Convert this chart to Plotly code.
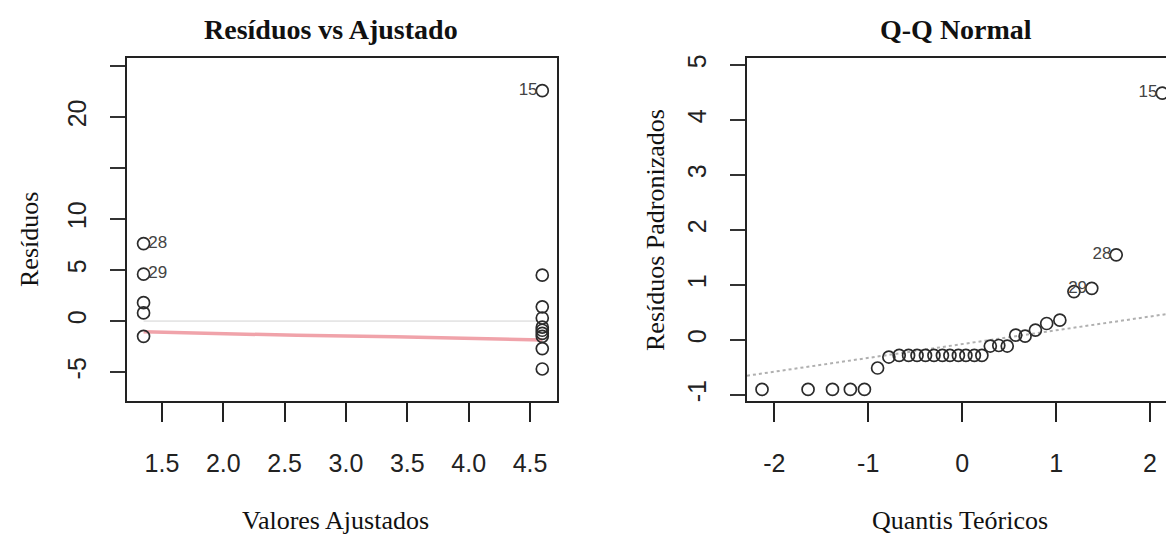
import plotly.graph_objects as go

# ---------------- data ----------------
# Panel 1: Residuals vs Fitted
fit_left = [1.35, 1.35, 1.35, 1.35, 1.35]
res_left = [7.6, 4.6, 1.8, 0.8, -1.5]
fit_right = [4.6, 4.6, 4.6, 4.6, 4.6, 4.6, 4.6, 4.6, 4.6, 4.6]
res_right = [22.6, 4.5, 1.4, 0.3, -0.6, -0.9, -1.2, -1.5, -2.7, -4.7]
smooth_x = [1.35, 1.8, 2.6, 3.4, 4.2, 4.6]
smooth_y = [-1.05, -1.2, -1.4, -1.55, -1.72, -1.85]
zero_x = [1.35, 4.55]
zero_y = [0, 0]
lab1_x = [1.35, 1.35, 4.6]
lab1_y = [7.6, 4.6, 22.6]
lab1_txt = ["28", "29", "15"]
x1_ticks = [1.5, 2.0, 2.5, 3.0, 3.5, 4.0, 4.5]
x1_ticktext = ["1.5", "2.0", "2.5", "3.0", "3.5", "4.0", "4.5"]
y1_ticks = [-5, 0, 5, 10, 15, 20, 25]
y1_ticktext = ["-5", "0", "5", "10", "", "20", ""]

# Panel 2: Normal Q-Q
theo_q = [-2.13, -1.64, -1.38, -1.19, -1.04, -0.90, -0.78, -0.67, -0.57, -0.48,
          -0.39, -0.30, -0.21, -0.13, -0.04, 0.04, 0.13, 0.21, 0.30, 0.39,
          0.48, 0.57, 0.67, 0.78, 0.90, 1.04, 1.19, 1.38, 1.64, 2.13]
std_res = [-0.90, -0.90, -0.90, -0.90, -0.90, -0.51, -0.31, -0.28, -0.28, -0.28,
           -0.28, -0.28, -0.28, -0.28, -0.28, -0.28, -0.28, -0.28, -0.11, -0.10,
           -0.11, 0.09, 0.07, 0.18, 0.30, 0.36, 0.88, 0.94, 1.55, 4.49]
qq_line_x = [-2.29, 2.25]
qq_line_y = [-0.65, 0.49]
lab2_x = [1.38, 1.64, 2.13]
lab2_y = [0.94, 1.55, 4.49]
lab2_txt = ["29", "28", "15"]
x2_ticks = [-2, -1, 0, 1, 2]
x2_ticktext = ["-2", "-1", "0", "1", "2"]
y2_ticks = [-1, 0, 1, 2, 3, 4, 5]
y2_ticktext = ["-1", "0", "1", "2", "3", "4", "5"]

# ---------------- styling ----------------
SERIF = "Liberation Serif, Times New Roman, serif"
SANS = "Liberation Sans Narrow, Arial Narrow, Liberation Sans, Arial, sans-serif"
PT = "#2b2b2b"
W, H = 1166, 536

pos1 = ["middle right", "middle right", "middle left"]
txt1 = [(" " + t) if p.endswith("right") else (t + " ") for t, p in zip(lab1_txt, pos1)]
txt2 = [t + " " for t in lab2_txt]

fig = go.Figure()

# panel 1
fig.add_trace(go.Scatter(x=zero_x, y=zero_y, mode="lines",
                         line=dict(color="#d2d2d2", width=1), xaxis="x", yaxis="y",
                         hoverinfo="skip"))
fig.add_trace(go.Scatter(x=smooth_x, y=smooth_y, mode="lines",
                         line=dict(color="#f0a3aa", width=3.5), xaxis="x", yaxis="y"))
fig.add_trace(go.Scatter(x=fit_left + fit_right, y=res_left + res_right, mode="markers",
                         marker=dict(symbol="circle-open", size=12, color=PT,
                                     line=dict(width=1.7, color=PT)),
                         xaxis="x", yaxis="y"))
fig.add_trace(go.Scatter(x=lab1_x, y=lab1_y, mode="text", text=txt1,
                         textposition=pos1,
                         textfont=dict(family=SANS, size=17, color="#444444"),
                         xaxis="x", yaxis="y"))

# panel 2
fig.add_trace(go.Scatter(x=qq_line_x, y=qq_line_y, mode="lines",
                         line=dict(color="#b0b0b0", width=2, dash="dot"),
                         xaxis="x2", yaxis="y2"))
fig.add_trace(go.Scatter(x=theo_q, y=std_res, mode="markers",
                         marker=dict(symbol="circle-open", size=12, color=PT,
                                     line=dict(width=1.7, color=PT)),
                         xaxis="x2", yaxis="y2"))
fig.add_trace(go.Scatter(x=lab2_x, y=lab2_y, mode="text", text=txt2,
                         textposition="middle left",
                         textfont=dict(family=SANS, size=17, color="#444444"),
                         xaxis="x2", yaxis="y2", cliponaxis=False))

ydom = [1 - 401 / H, 1 - 58 / H]

common_x = dict(showgrid=False, zeroline=False, showline=True, linecolor="#222222",
                linewidth=1.5, ticks="outside", ticklen=19, tickwidth=1.5,
                tickcolor="#222222", ticklabelstandoff=20,
                tickfont=dict(family=SANS, size=25, color="#222222"))
common_y = dict(showgrid=False, zeroline=False, showline=True, linecolor="#222222",
                linewidth=1.5, ticks="outside", ticklen=15, tickwidth=1.5,
                tickcolor="#333333", tickangle=-90, ticklabelstandoff=14,
                tickfont=dict(family=SANS, size=25, color="#222222"))

def ann(text, px, py, size, angle=0):
    return dict(text=text, x=px / W, y=1 - py / H, xref="paper", yref="paper",
                showarrow=False, xanchor="center", yanchor="middle", textangle=angle,
                font=dict(family=SERIF, size=size, color="#111111"))

fig.update_layout(
    width=W, height=H,
    margin=dict(l=0, r=0, t=0, b=0, autoexpand=False),
    paper_bgcolor="white", plot_bgcolor="white",
    showlegend=False,
    xaxis=dict(domain=[127 / W, 557 / W], range=[1.215, 4.72],
               tickvals=x1_ticks, ticktext=x1_ticktext, mirror=True, **common_x),
    yaxis=dict(domain=ydom, range=[-7.84, 25.8], tickvals=y1_ticks,
               ticktext=y1_ticktext, mirror=True, **common_y),
    xaxis2=dict(domain=[747 / W, 1.0], range=[-2.29, 2.17], tickvals=x2_ticks,
                ticktext=x2_ticktext, mirror=True, anchor="y2", **common_x),
    yaxis2=dict(domain=ydom, range=[-1.11, 5.13], tickvals=y2_ticks,
                ticktext=y2_ticktext, anchor="x2", mirror=False, **common_y),
    annotations=[
        ann("<b>Resíduos vs Ajustado</b>", 331, 30, 28),
        ann("<b>Q-Q Normal</b>", 956, 30, 28),
        ann("Valores Ajustados", 335, 520, 26),
        ann("Quantis Teóricos", 960, 520, 26),
        ann("Resíduos", 30, 240, 26, -90),
        ann("Resíduos Padronizados", 655, 230, 26, -90),
    ],
)

fig.write_html(
    "out.html",
    config={"displayModeBar": False},
    post_script="document.body.style.margin='0';document.body.style.overflow='hidden';",
)
